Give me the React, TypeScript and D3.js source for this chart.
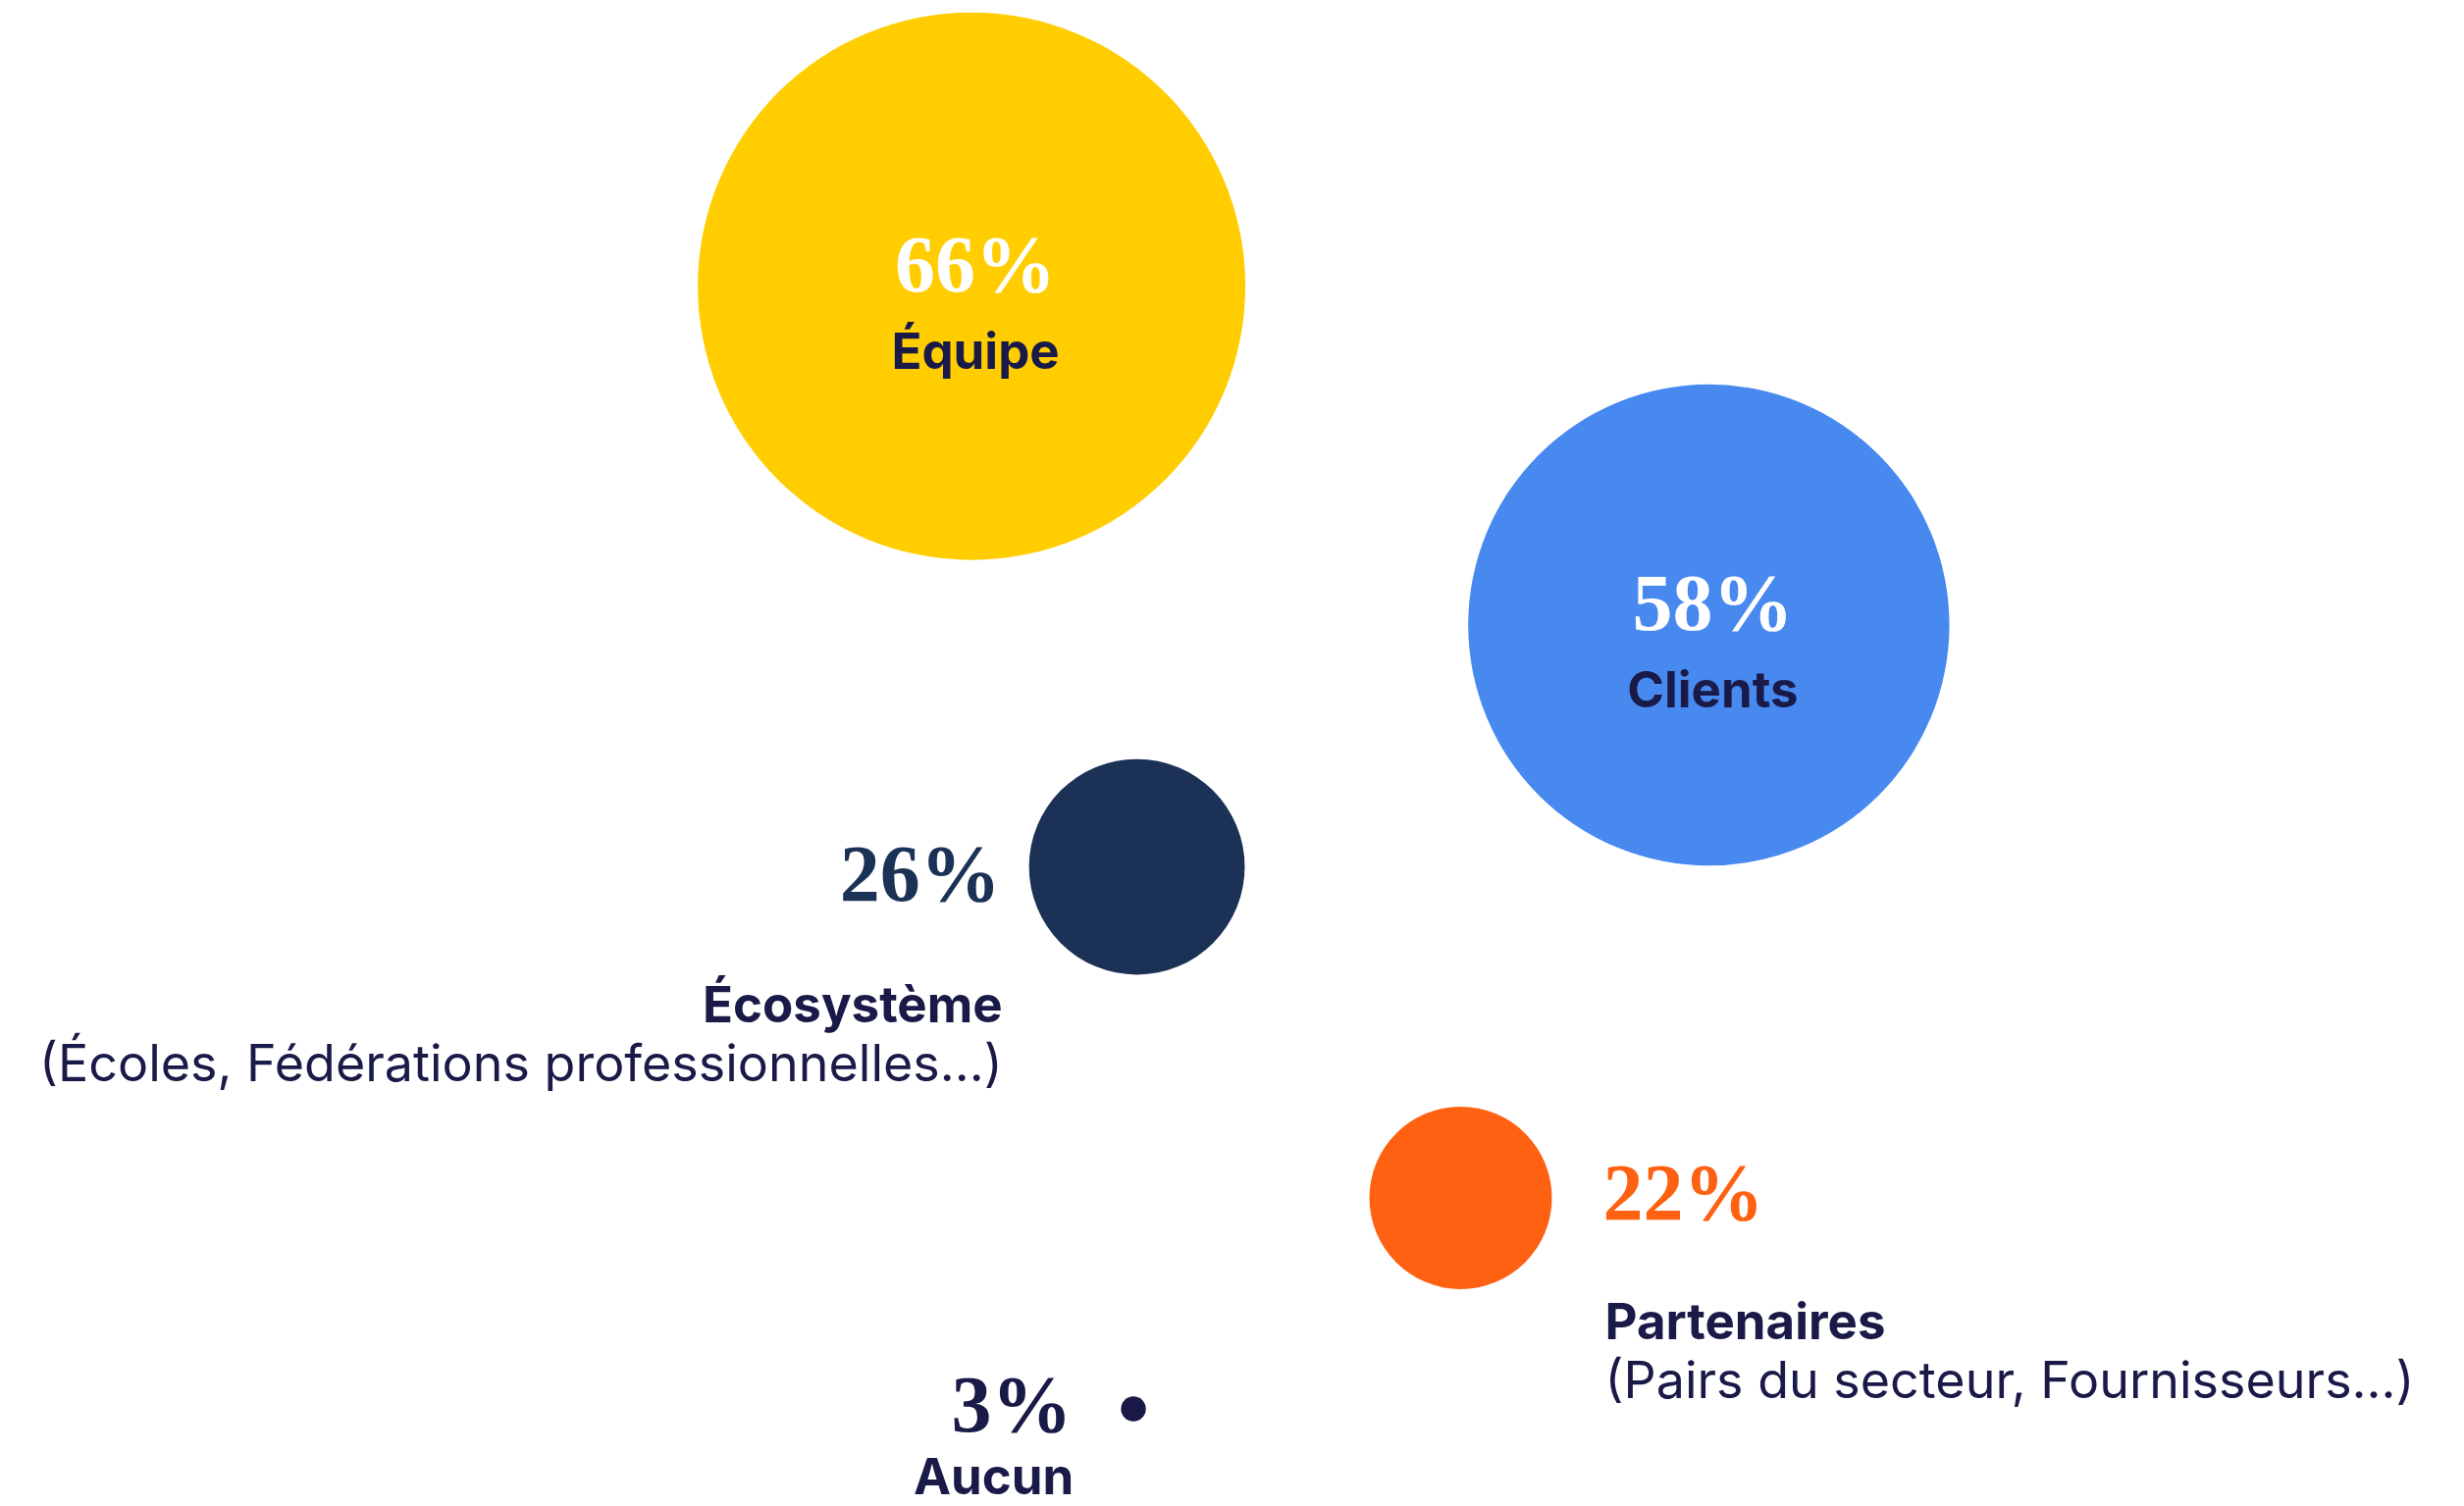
import React, { useEffect, useRef } from 'react';
import * as d3 from 'd3';

// values (share of respondents, %)
const categories = ['Équipe', 'Clients', 'Écosystème', 'Partenaires', 'Aucun'];
const values = [66, 58, 26, 22, 3];
const subtitles = ['', '', '(Écoles, Fédérations professionnelles...)', '(Pairs du secteur, Fournisseurs...)', ''];
const colors = ['#FFCD00', '#4889F0', '#1B3156', '#FF6112', '#1A1A48'];
const pctColors = ['#FFFFFF', '#FFFFFF', '#1B3156', '#FF6112', '#1A1A48'];

// layout: bubble centres as fractions of the canvas, and where the text goes
const layoutX = [0.3943, 0.6935, 0.4614, 0.5928, 0.46];
const layoutY = [0.19, 0.415, 0.5756, 0.7954, 0.9355];
const labelSide = ['inside', 'inside', 'left', 'right', 'left'];

const WIDTH = 2511;
const HEIGHT = 1535;
const INK = '#1A1A48';
const SERIF = '"Liberation Serif", "DejaVu Serif", serif';
const SANS = 'Inter, "Noto Sans", sans-serif';

const BubbleChart = () => {
  const ref = useRef<SVGSVGElement>(null);

  useEffect(() => {
    const svg = d3.select(ref.current);
    svg.selectAll('*').remove();

    const x = d3.scaleLinear().domain([0, 1]).range([0, WIDTH]);
    const y = d3.scaleLinear().domain([0, 1]).range([0, HEIGHT]);
    // radius is linear in the percentage
    const r = d3.scaleLinear().domain([0, d3.max(values)]).range([0, 279]);

    const data = categories.map((name, i) => ({
      name,
      value: values[i],
      sub: subtitles[i],
      side: labelSide[i],
      cx: x(layoutX[i]),
      cy: y(layoutY[i]),
      r: r(values[i]),
      color: colors[i],
      pctColor: pctColors[i],
    }));

    const g = svg.selectAll('g.bubble').data(data).enter().append('g').attr('class', 'bubble');

    g.append('circle')
      .attr('cx', (d) => d.cx)
      .attr('cy', (d) => d.cy)
      .attr('r', (d) => d.r)
      .attr('fill', (d) => d.color);

    g.each(function (d) {
      const sel = d3.select(this);
      let px, py, anchor, lx, ly;
      if (d.side === 'inside') {
        px = d.cx + 4; py = d.cy + 5; anchor = 'middle';
        lx = d.cx + 4; ly = d.cy + 84;
      } else if (d.side === 'left') {
        const gap = d.r > 50 ? 29 : 50;
        px = d.cx - d.r - gap; py = d.cy + (d.r > 50 ? 34 : 23); anchor = 'end';
        // "Aucun" sits at the very bottom edge, keep it inside the canvas
        lx = px + 2; ly = d.r > 50 ? d.cy + 158 : d.cy + 87;
      } else {
        px = d.cx + d.r + 52; py = d.cy + 22; anchor = 'start';
        lx = px + 2; ly = d.cy + 144;
      }

      sel.append('text')
        .attr('x', px)
        .attr('y', py)
        .attr('text-anchor', anchor)
        .attr('font-family', SERIF)
        .attr('font-weight', 700)
        .attr('font-size', 82)
        .attr('fill', d.pctColor)
        .text(`${d.value}%`);

      sel.append('text')
        .attr('x', lx)
        .attr('y', ly)
        .attr('text-anchor', anchor)
        .attr('font-family', SANS)
        .attr('font-weight', 700)
        .attr('font-size', 51)
        .attr('fill', INK)
        .text(d.name);

      if (d.sub) {
        sel.append('text')
          .attr('x', lx)
          .attr('y', ly + 60)
          .attr('text-anchor', anchor)
          .attr('font-family', SANS)
          .attr('font-weight', 400)
          .attr('font-size', 52)
          .attr('fill', INK)
          .text(d.sub);
      }
    });
  }, []);

  return (
    <svg
      ref={ref}
      width={WIDTH}
      height={HEIGHT}
      style={{ position: 'absolute', left: 0, top: 0, background: '#fff' }}
    />
  );
};

export default function App() {
  return <BubbleChart />;
}
